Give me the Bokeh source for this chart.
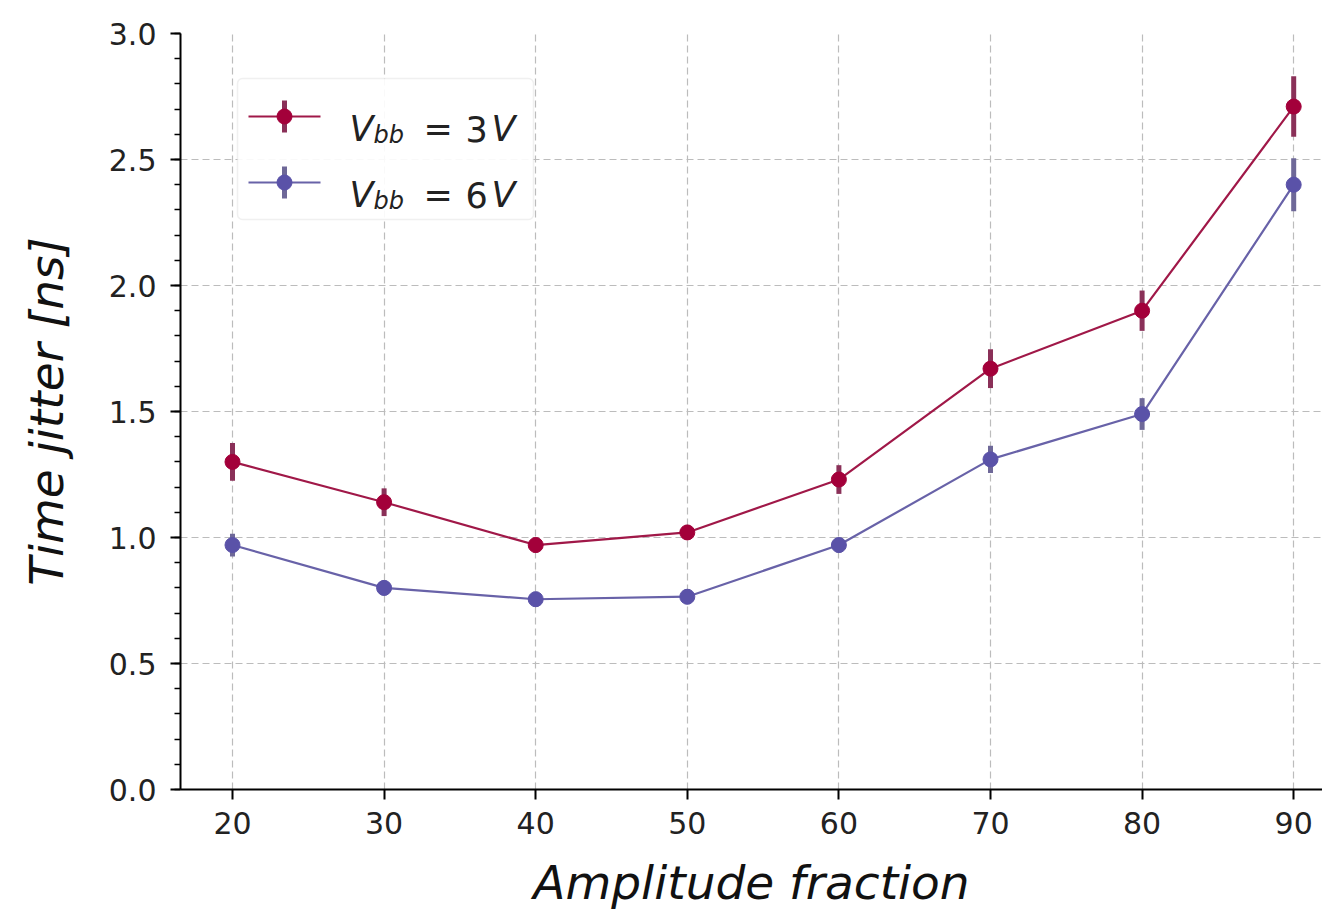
from bokeh.plotting import figure
from bokeh.models import Range1d, FixedTicker, BoxAnnotation, Label, PrintfTickFormatter
from bokeh.embed import file_html
from bokeh.resources import INLINE

# ---- data ----
amplitude = [20, 30, 40, 50, 60, 70, 80, 90]
jitter_3v = [1.30, 1.14, 0.97, 1.02, 1.23, 1.67, 1.90, 2.71]
err_3v = [0.075, 0.055, 0.03, 0.03, 0.057, 0.077, 0.08, 0.12]
jitter_6v = [0.97, 0.80, 0.755, 0.765, 0.97, 1.31, 1.49, 2.40]
err_6v = [0.045, 0.03, 0.03, 0.03, 0.03, 0.054, 0.063, 0.105]
x_ticks = [20, 30, 40, 50, 60, 70, 80, 90]
y_ticks = [0.0, 0.5, 1.0, 1.5, 2.0, 2.5, 3.0]
legend_labels = ["3V", "6V"]

C3 = "#a3003a"
C3_LINE = "#a01848"
C3_ERR = "#8a3058"
C6 = "#5a52a8"
C6_LINE = "#6862a8"
C6_ERR = "#6e6898"

W, H = 1322, 914
L, T, B = 180, 33, 125
X0, X1 = 16.57, 91.9
Y0, Y1 = 0.0, 3.0

p = figure(width=W, height=H, output_backend="svg", toolbar_location=None,
           x_range=Range1d(X0, X1), y_range=Range1d(Y0, Y1),
           min_border_left=L, min_border_right=0, min_border_top=T, min_border_bottom=B)
p.outline_line_color = None
p.background_fill_color = "white"
p.border_fill_color = "white"

# grid
for g in (p.xgrid, p.ygrid):
    g.grid_line_color = "#bcbcbc"
    g.grid_line_dash = "7 4"
    g.grid_line_width = 1.2
p.xgrid.ticker = FixedTicker(ticks=x_ticks)
p.ygrid.ticker = FixedTicker(ticks=y_ticks)

# axes
p.xaxis.ticker = FixedTicker(ticks=x_ticks)
p.yaxis.ticker = FixedTicker(ticks=y_ticks, minor_ticks=[i / 10 for i in range(31)])
p.yaxis.formatter = PrintfTickFormatter(format="%.1f")
for ax in (p.xaxis, p.yaxis):
    ax.axis_line_width = 2
    ax.axis_line_color = "black"
    ax.major_tick_line_color = "black"
    ax.major_tick_line_width = 2
    ax.major_tick_out = 10
    ax.major_tick_in = 0
    ax.major_label_text_font = "DejaVu Sans"
    ax.major_label_text_font_size = "30px"
    ax.major_label_text_color = "#222222"
    ax.axis_label_text_font = "DejaVu Sans"
    ax.axis_label_text_font_style = "italic"
    ax.axis_label_text_font_size = "47px"
    ax.axis_label_text_color = "#111111"
p.xaxis.minor_tick_line_color = None
p.yaxis.minor_tick_line_color = "black"
p.yaxis.minor_tick_line_width = 1.5
p.yaxis.minor_tick_out = 6
p.yaxis.minor_tick_in = 0
p.xaxis.major_label_standoff = 12
p.yaxis.major_label_standoff = 14
p.xaxis.axis_label = "Amplitude fraction"
p.yaxis.axis_label = "Time jitter [ns]"
p.xaxis.axis_label_standoff = 18
p.yaxis.axis_label_standoff = 32

# series
def series(y, e, cmark, cline, cerr):
    lo = [a - b for a, b in zip(y, e)]
    hi = [a + b for a, b in zip(y, e)]
    p.line(amplitude, y, line_color=cline, line_width=2.2)
    p.segment(x0=amplitude, y0=lo, x1=amplitude, y1=hi, line_color=cerr, line_width=5)
    p.scatter(amplitude, y, size=15, fill_color=cmark, line_color=cmark)

series(jitter_3v, err_3v, C3, C3_LINE, C3_ERR)
series(jitter_6v, err_6v, C6, C6_LINE, C6_ERR)

# ---- manual legend (pixel positions converted to data) ----
fw = W - L
fh = H - T - B
def dx(px):
    return X0 + (px - L) / fw * (X1 - X0)
def dy(py):
    return Y1 - (py - T) / fh * (Y1 - Y0)

p.add_layout(BoxAnnotation(left=dx(237), right=dx(533), top=dy(78), bottom=dy(219),
                           fill_color="white", fill_alpha=0.9, level="underlay",
                           line_color="#cccccc", line_width=1.5, border_radius=5))

rows = [(116, C3, C3_LINE, C3_ERR, legend_labels[0]),
        (182, C6, C6_LINE, C6_ERR, legend_labels[1])]
for ry, cm, cl, ce, lab in rows:
    p.line([dx(248), dx(320)], [dy(ry), dy(ry)], line_color=cl, line_width=2.2)
    p.segment(x0=[dx(284)], y0=[dy(ry - 16)], x1=[dx(284)], y1=[dy(ry + 16)],
              line_color=ce, line_width=5)
    p.scatter([dx(284)], [dy(ry)], size=15, fill_color=cm, line_color=cm)
    base = ry + 12
    p.add_layout(Label(x=dx(349), y=dy(base), text="V", text_font="DejaVu Sans",
                       text_font_style="italic", text_font_size="35px",
                       text_color="#222222", text_baseline="alphabetic"))
    p.add_layout(Label(x=dx(373), y=dy(base + 6), text="bb", text_font="DejaVu Sans",
                       text_font_style="italic", text_font_size="24px",
                       text_color="#222222", text_baseline="alphabetic"))
    p.add_layout(Label(x=dx(423), y=dy(base), text="=", text_font="DejaVu Sans",
                       text_font_size="35px",
                       text_color="#222222", text_baseline="alphabetic"))
    p.add_layout(Label(x=dx(465), y=dy(base), text=lab[0], text_font="DejaVu Sans",
                       text_font_size="35px",
                       text_color="#222222", text_baseline="alphabetic"))
    p.add_layout(Label(x=dx(491), y=dy(base), text=lab[1], text_font="DejaVu Sans",
                       text_font_style="italic", text_font_size="35px",
                       text_color="#222222", text_baseline="alphabetic"))

open("out.html", "w").write(file_html(p, INLINE))
